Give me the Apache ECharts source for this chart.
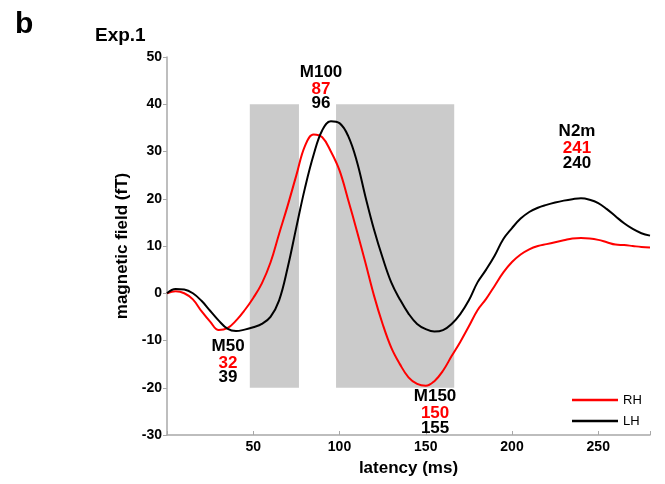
<!DOCTYPE html>
<html><head><meta charset="utf-8">
<script src="https://cdn.jsdelivr.net/npm/echarts@6/dist/echarts.min.js"></script>
<style>html,body{margin:0;padding:0;background:#fff}#c{width:665px;height:484px}</style>
</head><body><div id="c"></div>
<script>
// latency (ms)
const latency = [0,5,10,15,20,25,30,35,40,45,50,55,60,65,70,75,80,85,90,95,100,105,110,115,120,125,130,135,140,145,150,155,160,165,170,175,180,185,190,195,200,205,210,215,220,225,230,235,240,245,250,255,260,265,270,275,280];
// right hemisphere (red)
const rhField = [0,0.4,0,-1.3,-3.8,-6.0,-7.8,-7.4,-5.8,-3.6,-1.0,2.1,6.5,12.6,18.6,25.0,31.2,33.6,33.0,30,26,19.8,13.3,6.5,-0.5,-6.5,-11.5,-15,-17.8,-19.2,-19.6,-18.6,-16.4,-13.3,-10.3,-7,-3.6,-1.2,1.6,4.4,6.6,8.2,9.3,10,10.4,10.8,11.2,11.6,11.7,11.6,11.3,10.8,10.3,10.2,10.0,9.8,9.7];
// left hemisphere (black)
const lhField = [0,0.9,0.8,0,-1.6,-3.7,-5.8,-7.5,-8.0,-7.7,-7.2,-6.5,-5.0,-1.5,5.5,14,22.3,29.3,34.5,36.4,36,33.3,28,20.5,13.5,7.5,2.3,-1.3,-4.3,-6.5,-7.6,-8.1,-7.8,-6.5,-4.4,-1.5,2.3,5,8,11.5,13.8,15.8,17.2,18.1,18.7,19.2,19.6,19.9,20.1,19.8,19.1,17.8,16.3,14.8,13.6,12.7,12.2];
const xTickLabels = [50,100,150,200,250];
const yTickLabels = [-30,-20,-10,0,10,20,30,40,50];
// shaded analysis windows
const boxStart = [48, 98];
const boxEnd = [76.5, 166.5];
const boxTop = [40, 40];
const boxBottom = [-20, -20];
// peak annotations
const peakNames = ['M50','M100','M150','N2m'];
const rhLatency = [32, 87, 150, 241];
const lhLatency = [39, 96, 155, 240];
const peakLabelX = [35.4, 89.3, 155.4, 237.7];
const peakLabelY = [-9.22, 48.69, -19.99, 36.1];

const FONT = '"Liberation Sans", Arial, Helvetica, sans-serif';
const LINE_ICON = 'path://M0,0L0.01,0Z M0,5.8H46V8.2H0Z M0,14L0.01,14Z';
const chart = echarts.init(document.getElementById('c'));
chart.setOption({
  animation: false,
  backgroundColor: '#fff',
  textStyle: {fontFamily: FONT},
  grid: {left: 167, right: 15, top: 57, bottom: 49, containLabel: false},
  graphic: [
    {type: 'text', left: 15, top: 10, style: {text: 'b', font: 'bold 30px ' + FONT, fill: '#000'}},
    {type: 'text', left: 95, top: 26, style: {text: 'Exp.1', font: 'bold 19px ' + FONT, fill: '#000'}}
  ],
  legend: {
    data: [{name: 'RH', icon: LINE_ICON}, {name: 'LH', icon: LINE_ICON}],
    orient: 'vertical', left: 567, top: 388,
    itemWidth: 46, itemHeight: 14, itemGap: 7,
    textStyle: {fontSize: 13, color: '#000', fontFamily: FONT}
  },
  xAxis: {
    type: 'value', min: 0, max: 280, interval: 50,
    name: 'latency (ms)', nameLocation: 'middle', nameGap: 25,
    nameTextStyle: {fontSize: 17, fontWeight: 'bold', color: '#000', fontFamily: FONT},
    axisLine: {onZero: false, lineStyle: {color: '#a8a8a8', width: 1.5}},
    axisTick: {inside: true, length: 4, lineStyle: {color: '#a8a8a8'}},
    axisLabel: {margin: 5, fontSize: 14, fontWeight: 'bold', color: '#000', fontFamily: FONT,
      formatter: v => xTickLabels.indexOf(v) >= 0 ? String(v) : ''},
    splitLine: {show: false}
  },
  yAxis: {
    type: 'value', min: -30, max: 50, interval: 10,
    name: 'magnetic field (fT)', nameLocation: 'middle', nameGap: 31,
    nameTextStyle: {fontSize: 17, fontWeight: 'bold', color: '#000', fontFamily: FONT},
    axisLine: {show: true, onZero: false, lineStyle: {color: '#a8a8a8', width: 1.5}},
    axisTick: {show: true, length: 4, lineStyle: {color: '#a8a8a8'}},
    axisLabel: {margin: 5, fontSize: 14, fontWeight: 'bold', color: '#000', fontFamily: FONT,
      formatter: v => yTickLabels.indexOf(v) >= 0 ? String(v) : ''},
    splitLine: {show: false}
  },
  series: [
    {
      type: 'custom', z: 1, silent: true,
      data: boxStart.map((s, i) => [s, boxEnd[i], boxBottom[i], boxTop[i]]),
      renderItem: (params, api) => {
        const p0 = api.coord([api.value(0), api.value(3)]);
        const p1 = api.coord([api.value(1), api.value(2)]);
        return {type: 'rect', shape: {x: p0[0], y: p0[1], width: p1[0] - p0[0], height: p1[1] - p0[1]},
          style: {fill: '#cbcbcb'}};
      }
    },
    {
      name: 'RH', type: 'line', z: 3, symbol: 'none', smooth: 0.4,
      data: latency.map((t, i) => [t, rhField[i]]),
      lineStyle: {color: '#ff0000', width: 2}, itemStyle: {color: '#ff0000'}
    },
    {
      name: 'LH', type: 'line', z: 4, symbol: 'none', smooth: 0.4,
      data: latency.map((t, i) => [t, lhField[i]]),
      lineStyle: {color: '#000000', width: 2}, itemStyle: {color: '#000000'}
    },
    {
      type: 'scatter', z: 5, symbolSize: 0, silent: true,
      itemStyle: {opacity: 1},
      data: peakNames.map((n, i) => [peakLabelX[i], peakLabelY[i]]),
      label: {
        show: true, position: 'bottom', distance: 0, align: 'center', color: '#000', opacity: 1,
        formatter: p => '{n|' + peakNames[p.dataIndex] + '}\n{r|' + rhLatency[p.dataIndex] + '}\n{k|' + lhLatency[p.dataIndex] + '}',
        rich: {
          n: {fontSize: 17, fontWeight: 'bold', color: '#000000', lineHeight: 18, fontFamily: FONT},
          r: {fontSize: 17, fontWeight: 'bold', color: '#ff0000', lineHeight: 16, fontFamily: FONT},
          k: {fontSize: 17, fontWeight: 'bold', color: '#000000', lineHeight: 13, fontFamily: FONT}
        }
      }
    }
  ]
});
</script></body></html>
